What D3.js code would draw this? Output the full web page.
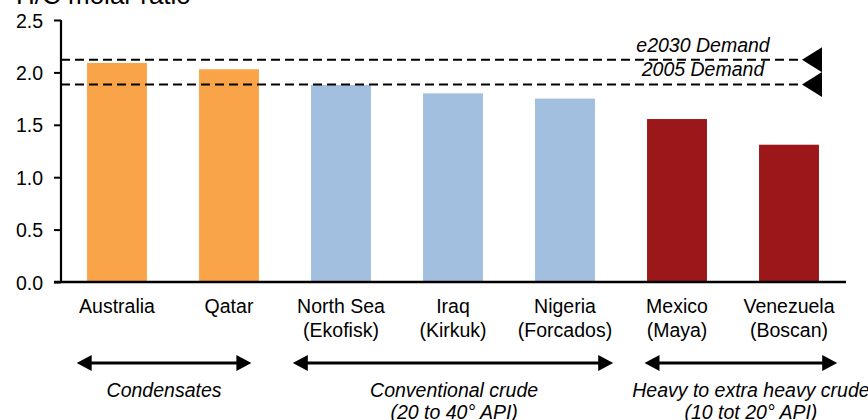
<!DOCTYPE html>
<html>
<head>
<meta charset="utf-8">
<script src="https://cdn.jsdelivr.net/npm/d3@7"></script>
<style>
  html, body { margin: 0; padding: 0; background: #fff; }
  svg { display: block; font-family: "Liberation Sans", Arial, sans-serif; }
</style>
</head>
<body>
<svg id="chart" width="868" height="420"></svg>
<script>
// ---- data ----
const categories = ["Australia", "Qatar", "North Sea", "Iraq", "Nigeria", "Mexico", "Venezuela"];
const subLabels  = ["", "", "(Ekofisk)", "(Kirkuk)", "(Forcados)", "(Maya)", "(Boscan)"];
const values     = [2.09, 2.03, 1.88, 1.80, 1.75, 1.555, 1.31];
const groupOf    = [0, 0, 1, 1, 1, 2, 2];
const groupColors = ["#FAA44A", "#A3BFDF", "#9C1719"];
const groupNames  = [["Condensates"], ["Conventional crude", "(20 to 40° API)"], ["Heavy to extra heavy crude", "(10 tot 20° API)"]];
const groupSpans  = [[0.14, 1.70], [2.07, 4.93], [5.21, 6.93]];   // in category-index units
const groupLabelAt = [0.92, 3.51, 6.16];
const demandNames  = ["e2030 Demand", "2005 Demand"];
const demandValues = [2.12, 1.885];
const yTicks = [0, 0.5, 1.0, 1.5, 2.0, 2.5];
const yTitle = "H/C molar ratio";

// ---- layout ----
const svg = d3.select("#chart");
const mLeft = 61, mRight = 845, mTop = 20, mBottom = 282;
const fs = 19.5;

const x = d3.scaleBand().domain(categories).range([mLeft, mRight]).paddingInner(0.465).paddingOuter(0.2325);
const xi = d3.scaleLinear().domain([0, categories.length]).range([mLeft, mRight]);
const y = d3.scaleLinear().domain([0, 2.5]).range([mBottom, mTop]);

// title
svg.append("text").attr("x", 16).attr("y", 4).attr("font-size", 26).attr("fill", "#000").text(yTitle);

// bars
svg.append("g").selectAll("rect").data(values).join("rect")
  .attr("x", (d, i) => x(categories[i]))
  .attr("width", x.bandwidth())
  .attr("y", d => y(d))
  .attr("height", d => y(0) - y(d))
  .attr("fill", (d, i) => groupColors[groupOf[i]]);

// y axis
const yAxis = svg.append("g").attr("transform", `translate(${mLeft},0)`)
  .call(d3.axisLeft(y).tickValues(yTicks).tickFormat(d3.format(".1f")).tickSize(7).tickPadding(11));
yAxis.select(".domain").attr("stroke", "#000").attr("stroke-width", 2.2).attr("d", `M0,${mTop}V${mBottom}`);
yAxis.selectAll(".tick line").attr("stroke", "#000").attr("stroke-width", 2);
yAxis.selectAll(".tick text").attr("font-size", fs).attr("fill", "#000").attr("font-family", "Liberation Sans, Arial, sans-serif").attr("dy", "0.36em");

// x axis line
svg.append("line").attr("x1", mLeft - 7).attr("x2", mRight + 1).attr("y1", y(0)).attr("y2", y(0))
  .attr("stroke", "#000").attr("stroke-width", 2.4);

// category labels
const lab = svg.append("g").attr("font-size", fs).attr("text-anchor", "middle").attr("fill", "#000");
categories.forEach((c, i) => {
  const cx = x(c) + x.bandwidth() / 2;
  lab.append("text").attr("x", cx).attr("y", 313).text(c);
  if (subLabels[i]) lab.append("text").attr("x", cx).attr("y", 337).text(subLabels[i]);
});

// demand lines
const dashEnd = 802;
demandValues.forEach((v, i) => {
  const yy = y(v);
  svg.append("line").attr("x1", mLeft).attr("x2", dashEnd).attr("y1", yy).attr("y2", yy)
    .attr("stroke", "#000").attr("stroke-width", 2).attr("stroke-dasharray", "9,5");
  svg.append("path").attr("d", `M${dashEnd},${yy}L${dashEnd + 20},${yy - 12.5}L${dashEnd + 20},${yy + 12.5}Z`).attr("fill", "#000");
  svg.append("text").attr("x", 703).attr("y", yy - 8).attr("text-anchor", "middle")
    .attr("font-size", fs).attr("font-style", "italic").attr("fill", "#000").text(demandNames[i]);
});

// group arrows
const ay = 363, ah = 15, hh = 8;
groupSpans.forEach((s, i) => {
  const x1 = xi(s[0]), x2 = xi(s[1]);
  svg.append("line").attr("x1", x1 + ah - 2).attr("x2", x2 - ah + 2).attr("y1", ay).attr("y2", ay)
    .attr("stroke", "#000").attr("stroke-width", 3);
  svg.append("path").attr("d", `M${x1},${ay}L${x1 + ah},${ay - hh}L${x1 + ah},${ay + hh}Z`).attr("fill", "#000");
  svg.append("path").attr("d", `M${x2},${ay}L${x2 - ah},${ay - hh}L${x2 - ah},${ay + hh}Z`).attr("fill", "#000");
  groupNames[i].forEach((t, j) => {
    svg.append("text").attr("x", xi(groupLabelAt[i])).attr("y", 397 + j * 22)
      .attr("text-anchor", "middle").attr("font-size", fs).attr("font-style", "italic").attr("fill", "#000").text(t);
  });
});
</script>
</body>
</html>
